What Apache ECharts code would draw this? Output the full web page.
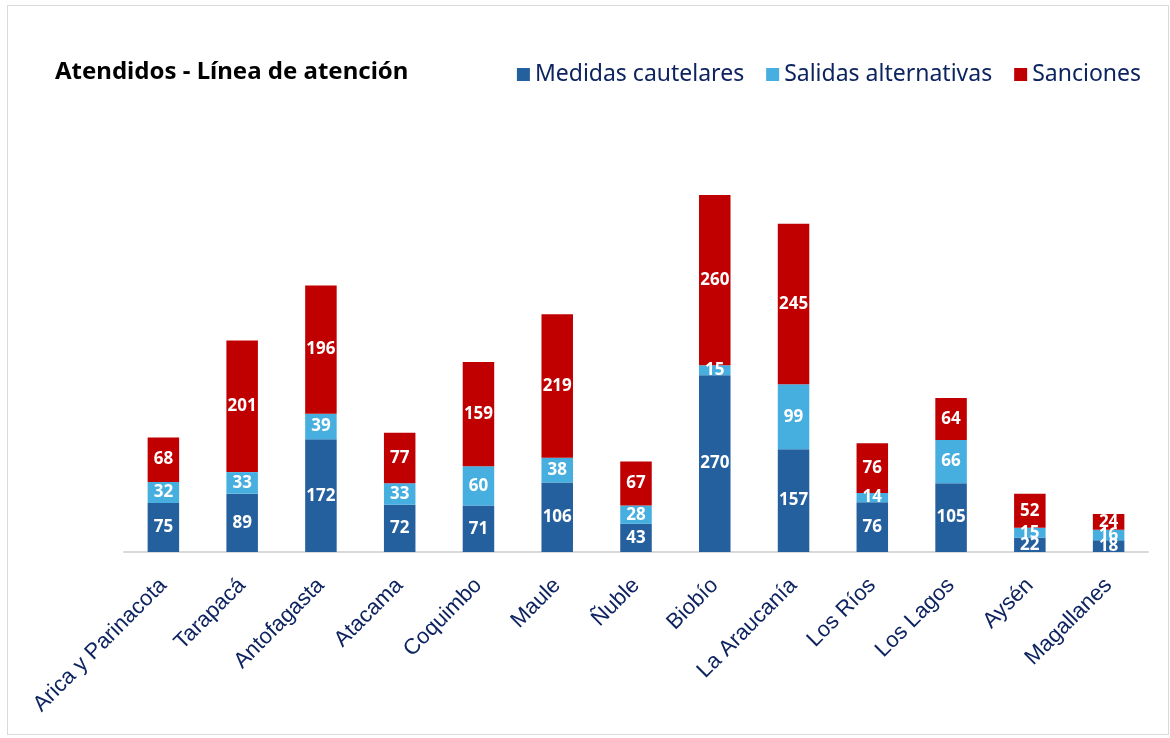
<!DOCTYPE html>
<html>
<head>
<meta charset="utf-8">
<script src="https://cdn.jsdelivr.net/npm/echarts@6/dist/echarts.min.js"></script>
<style>
html,body{margin:0;padding:0;background:#fff;}
#frame{position:absolute;left:7px;top:5px;width:1162px;height:730px;border:1px solid #d9d9d9;box-sizing:border-box;}
#chart{position:absolute;left:0;top:0;width:1170px;height:738px;}
</style>
</head>
<body>
<div id="frame"></div>
<div id="chart"></div>
<script>
const categories = ['Arica y Parinacota','Tarapacá','Antofagasta','Atacama','Coquimbo','Maule','Ñuble','Biobío','La Araucanía','Los Ríos','Los Lagos','Aysén','Magallanes'];
const medidas = [75, 89, 172, 72, 71, 106, 43, 270, 157, 76, 105, 22, 18];
const salidas = [32, 33, 39, 33, 60, 38, 28, 15, 99, 14, 66, 15, 16];
const sanciones = [68, 201, 196, 77, 159, 219, 67, 260, 245, 76, 64, 52, 24];
const seriesNames = ['Medidas cautelares','Salidas alternativas','Sanciones'];
const colors = ['#245f9e','#47afe0','#c00000'];

const chart = echarts.init(document.getElementById('chart'));
const lbl = {show:true, position:'inside', color:'#fff', fontWeight:'bold', fontSize:17, fontFamily:'Noto Sans'};
function mk(name, data, color){
  return {name:name, type:'bar', stack:'t', data:data, barWidth:'40%', itemStyle:{color:color}, label:lbl};
}
chart.setOption({
  animation:false,
  title:{text:'Atendidos - Línea de atención', left:50, top:55, textStyle:{fontFamily:'Noto Sans', fontWeight:'bold', fontSize:24, color:'#000'}},
  legend:{right:24, top:58, icon:'rect', itemWidth:13, itemHeight:13, itemGap:22, textStyle:{fontFamily:'Noto Sans', fontSize:23, color:'#0e2461'}, data:seriesNames},
  grid:{left:124, right:22, bottom:186, top:28, containLabel:false},
  xAxis:{type:'category', data:categories, axisLine:{lineStyle:{color:'#d9d9d9', width:2}}, axisTick:{show:false},
    axisLabel:{rotate:45, interval:0, fontFamily:'Liberation Sans', fontSize:22, color:'#0e2461', margin:30}},
  yAxis:{type:'value', min:0, max:800, show:false, splitLine:{show:false}},
  series:[mk(seriesNames[0], medidas, colors[0]), mk(seriesNames[1], salidas, colors[1]), mk(seriesNames[2], sanciones, colors[2])]
});
</script>
</body>
</html>
